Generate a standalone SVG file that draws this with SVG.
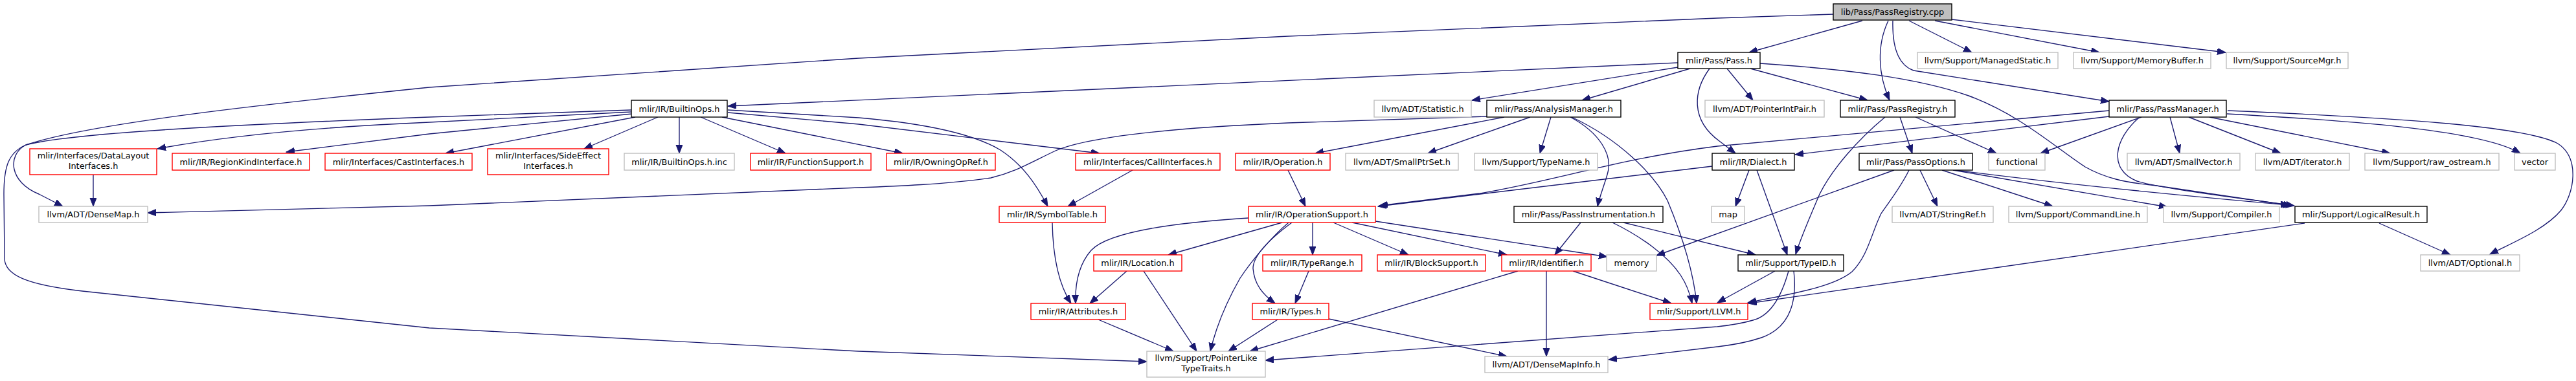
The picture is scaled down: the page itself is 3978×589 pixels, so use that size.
<svg xmlns="http://www.w3.org/2000/svg" width="3978" height="589" viewBox="0 0 3978 589">
<defs>
<marker id="ah" markerUnits="userSpaceOnUse" markerWidth="14" markerHeight="11" refX="13" refY="5" orient="auto">
<path d="M0,0 L13,5 L0,10 z" fill="#191970" stroke="#191970" stroke-width="1"/>
</marker>
<style>
rect{fill:#ffffff;stroke-width:1.4}
.b{stroke:#000000}
.r{stroke:#ff0000}
.g{stroke:#bfbfbf}
.cur{fill:#bfbfbf;stroke:#000000}
text{font-family:"DejaVu Sans","Liberation Sans",sans-serif;font-size:12.9px;fill:#000000;text-anchor:middle}
#edges path{fill:none;stroke:#191970;stroke-width:1.35;marker-end:url(#ah)}
</style>
</defs>
<rect x="0" y="0" width="3978" height="589" style="fill:#ffffff;stroke:none"/>
<g id="edges">
<path d="M2876,32 L2701,81"/>
<path d="M2916,32 C2898,70 2900,115 2918,155"/>
<path d="M2923,32 C2922,70 2930,100 2955,109 L3257,157"/>
<path d="M2948,32 L3045,81"/>
<path d="M2988,32 L3242,81"/>
<path d="M3014,30 L3437,81"/>
<path d="M2831,22 L2652,28 L1989,56 L1326,90 L663,135 C420,160 140,190 40,224 C10,240 15,282 60,300 L97,319"/>
<path d="M975,170 L663,181 C380,192 110,205 40,224 C12,236 6,260 6,300 L7,400 C8,425 40,440 127,450 L663,507 L1326,543 L1771,559"/>
<path d="M2591,97 L1124,164"/>
<path d="M2591,104 L2273,155"/>
<path d="M2610,106 L2443,155"/>
<path d="M2640,106 C2615,140 2610,185 2655,218 L2680,237"/>
<path d="M2667,106 L2707,155"/>
<path d="M2703,106 L2884,155"/>
<path d="M2718,98 C2850,107 2960,120 3040,148 C3120,178 3170,225 3220,258 C3250,275 3280,282 3330,287 L3539,318"/>
<path d="M3257,180 L2772,239"/>
<path d="M3257,171 L2652,226 C2500,245 2400,280 2285,299 L2130,318"/>
<path d="M3307,181 L3151,237"/>
<path d="M3303,182 C3265,215 3255,262 3300,280 C3340,292 3450,305 3543,318"/>
<path d="M3351,181 L3366,237"/>
<path d="M3380,181 L3522,237"/>
<path d="M3412,181 L3691,237"/>
<path d="M3439,176 C3620,186 3830,200 3892,237"/>
<path d="M3440,171 C3700,182 3900,195 3950,222 C3985,245 3975,300 3955,325 C3930,355 3880,375 3845,393"/>
<path d="M2911,181 C2870,215 2830,260 2810,300 C2795,335 2780,370 2773,393"/>
<path d="M2934,181 L2953,237"/>
<path d="M2958,181 L3083,237"/>
<path d="M2296,180 L1989,190 C1800,198 1680,212 1630,233 C1590,252 1570,265 1530,275 C1460,285 1380,288 1326,290 L663,318 L228,329"/>
<path d="M2323,181 L2031,237"/>
<path d="M2363,181 L2205,237"/>
<path d="M2395,181 L2378,237"/>
<path d="M2425,181 C2470,205 2492,240 2482,270 C2476,290 2470,305 2467,319"/>
<path d="M2427,181 C2500,215 2555,270 2575,310 C2600,370 2615,420 2620,469"/>
<path d="M975,173 L663,189 C500,196 350,210 243,230"/>
<path d="M976,176 L663,207 L442,235"/>
<path d="M981,181 L688,237"/>
<path d="M1016,181 L902,230"/>
<path d="M1049,181 L1049,237"/>
<path d="M1082,181 L1213,237"/>
<path d="M1115,181 L1394,237"/>
<path d="M1124,174 L1326,192 L1698,237"/>
<path d="M1124,170 L1326,182 C1420,190 1500,205 1545,232 C1580,255 1600,285 1618,319"/>
<path d="M144,270 L144,319"/>
<path d="M1749,263 L1649,319"/>
<path d="M1989,263 L2016,319"/>
<path d="M2644,257 L2128,319"/>
<path d="M2701,263 L2680,319"/>
<path d="M2713,263 L2760,394"/>
<path d="M2925,263 L2558,395"/>
<path d="M2948,263 C2935,290 2915,315 2905,330 C2890,360 2885,395 2860,420 C2830,445 2760,455 2699,468"/>
<path d="M2965,263 L2992,319"/>
<path d="M2999,263 L3170,319"/>
<path d="M3016,263 L3347,320"/>
<path d="M3020,263 C3150,280 3320,298 3535,317"/>
<path d="M3559,345 L2700,469"/>
<path d="M3674,345 L3784,394"/>
<path d="M2441,344 L2401,394"/>
<path d="M2490,344 C2535,366 2575,395 2595,425 C2605,440 2610,455 2613,469"/>
<path d="M2507,344 L2711,394"/>
<path d="M1928,337 C1800,345 1710,360 1685,387 C1665,410 1660,440 1661,469"/>
<path d="M1980,344 L1804,394"/>
<path d="M1990,344 C1965,365 1935,400 1915,430 C1895,465 1878,505 1869,543"/>
<path d="M1995,344 C1960,370 1935,395 1935,415 C1937,440 1950,455 1969,469"/>
<path d="M2027,344 L2027,394"/>
<path d="M2059,344 L2175,394"/>
<path d="M2088,344 L2327,394"/>
<path d="M2124,342 L2482,397"/>
<path d="M2021,419 L2000,469"/>
<path d="M1973,494 L1897,543"/>
<path d="M2052,493 L2327,551"/>
<path d="M1740,419 L1683,469"/>
<path d="M1766,419 L1848,543"/>
<path d="M1696,494 L1812,543"/>
<path d="M2344,419 L1930,543"/>
<path d="M2388,419 L2388,551"/>
<path d="M2429,419 L2581,469"/>
<path d="M2741,419 L2652,468"/>
<path d="M2762,419 C2752,455 2735,488 2707,495 C2690,500 2670,503 2652,505 L1954,557"/>
<path d="M2770,419 C2775,460 2768,505 2720,522 C2690,532 2660,535 2652,536 L2484,556"/>
<path d="M1625,344 C1626,400 1635,440 1654,469"/>
</g>
<g id="n_cpp"><rect class="cur" x="2831" y="6" width="183" height="25"/><text x="2922.5" y="23">lib/Pass/PassRegistry.cpp</text></g>
<g id="n_passh"><rect class="b" x="2591" y="81" width="127" height="25"/><text x="2654.5" y="98">mlir/Pass/Pass.h</text></g>
<g id="n_managed"><rect class="g" x="2961" y="81" width="217" height="25"/><text x="3069.5" y="98">llvm/Support/ManagedStatic.h</text></g>
<g id="n_membuf"><rect class="g" x="3202" y="81" width="212" height="25"/><text x="3308" y="98">llvm/Support/MemoryBuffer.h</text></g>
<g id="n_srcmgr"><rect class="g" x="3438" y="81" width="188" height="25"/><text x="3532" y="98">llvm/Support/SourceMgr.h</text></g>
<g id="n_builtin"><rect class="b" x="975" y="155" width="148" height="26"/><text x="1049" y="172.5">mlir/IR/BuiltinOps.h</text></g>
<g id="n_statistic"><rect class="g" x="2122" y="155" width="150" height="26"/><text x="2197" y="172.5">llvm/ADT/Statistic.h</text></g>
<g id="n_analysis"><rect class="b" x="2296" y="155" width="207" height="26"/><text x="2399.5" y="172.5">mlir/Pass/AnalysisManager.h</text></g>
<g id="n_ptrint"><rect class="g" x="2633" y="155" width="184" height="26"/><text x="2725" y="172.5">llvm/ADT/PointerIntPair.h</text></g>
<g id="n_passreg"><rect class="b" x="2842" y="155" width="177" height="26"/><text x="2930.5" y="172.5">mlir/Pass/PassRegistry.h</text></g>
<g id="n_passmgr"><rect class="b" x="3257" y="155" width="181" height="26"/><text x="3347.5" y="172.5">mlir/Pass/PassManager.h</text></g>
<g id="n_datalayout"><rect class="r" x="46" y="230" width="196" height="40"/><text x="144" y="245">mlir/Interfaces/DataLayout</text><text x="144" y="261">Interfaces.h</text></g>
<g id="n_regionkind"><rect class="r" x="266" y="237" width="212" height="26"/><text x="372" y="254.5">mlir/IR/RegionKindInterface.h</text></g>
<g id="n_cast"><rect class="r" x="502" y="237" width="227" height="26"/><text x="615.5" y="254.5">mlir/Interfaces/CastInterfaces.h</text></g>
<g id="n_sideeffect"><rect class="r" x="753" y="230" width="187" height="40"/><text x="846.5" y="245">mlir/Interfaces/SideEffect</text><text x="846.5" y="261">Interfaces.h</text></g>
<g id="n_builtininc"><rect class="g" x="964" y="237" width="170" height="26"/><text x="1049" y="254.5">mlir/IR/BuiltinOps.h.inc</text></g>
<g id="n_funcsupport"><rect class="r" x="1159" y="237" width="186" height="26"/><text x="1252" y="254.5">mlir/IR/FunctionSupport.h</text></g>
<g id="n_owning"><rect class="r" x="1369" y="237" width="168" height="26"/><text x="1453" y="254.5">mlir/IR/OwningOpRef.h</text></g>
<g id="n_callif"><rect class="r" x="1661" y="237" width="223" height="26"/><text x="1772.5" y="254.5">mlir/Interfaces/CallInterfaces.h</text></g>
<g id="n_operation"><rect class="r" x="1908" y="237" width="146" height="26"/><text x="1981" y="254.5">mlir/IR/Operation.h</text></g>
<g id="n_smallptr"><rect class="g" x="2078" y="237" width="174" height="26"/><text x="2165" y="254.5">llvm/ADT/SmallPtrSet.h</text></g>
<g id="n_typename"><rect class="g" x="2277" y="237" width="190" height="26"/><text x="2372" y="254.5">llvm/Support/TypeName.h</text></g>
<g id="n_dialect"><rect class="b" x="2644" y="237" width="127" height="26"/><text x="2707.5" y="254.5">mlir/IR/Dialect.h</text></g>
<g id="n_passopts"><rect class="b" x="2871" y="237" width="175" height="26"/><text x="2958.5" y="254.5">mlir/Pass/PassOptions.h</text></g>
<g id="n_functional"><rect class="g" x="3071" y="237" width="87" height="26"/><text x="3114.5" y="254.5">functional</text></g>
<g id="n_smallvec"><rect class="g" x="3285" y="237" width="174" height="26"/><text x="3372" y="254.5">llvm/ADT/SmallVector.h</text></g>
<g id="n_iterator"><rect class="g" x="3483" y="237" width="145" height="26"/><text x="3555.5" y="254.5">llvm/ADT/iterator.h</text></g>
<g id="n_rawostream"><rect class="g" x="3652" y="237" width="207" height="26"/><text x="3755.5" y="254.5">llvm/Support/raw_ostream.h</text></g>
<g id="n_vector"><rect class="g" x="3883" y="237" width="63" height="26"/><text x="3914.5" y="254.5">vector</text></g>
<g id="n_densemap"><rect class="g" x="60" y="319" width="168" height="25"/><text x="144" y="336">llvm/ADT/DenseMap.h</text></g>
<g id="n_symtab"><rect class="r" x="1543" y="319" width="164" height="25"/><text x="1625" y="336">mlir/IR/SymbolTable.h</text></g>
<g id="n_opsupport"><rect class="r" x="1928" y="319" width="196" height="25"/><text x="2026" y="336">mlir/IR/OperationSupport.h</text></g>
<g id="n_passinstr"><rect class="b" x="2338" y="319" width="230" height="25"/><text x="2453" y="336">mlir/Pass/PassInstrumentation.h</text></g>
<g id="n_map"><rect class="g" x="2643" y="319" width="51" height="25"/><text x="2668.5" y="336">map</text></g>
<g id="n_stringref"><rect class="g" x="2922" y="319" width="156" height="25"/><text x="3000" y="336">llvm/ADT/StringRef.h</text></g>
<g id="n_cmdline"><rect class="g" x="3102" y="319" width="214" height="25"/><text x="3209" y="336">llvm/Support/CommandLine.h</text></g>
<g id="n_compiler"><rect class="g" x="3341" y="319" width="179" height="25"/><text x="3430.5" y="336">llvm/Support/Compiler.h</text></g>
<g id="n_logical"><rect class="b" x="3544" y="319" width="204" height="25"/><text x="3646" y="336">mlir/Support/LogicalResult.h</text></g>
<g id="n_location"><rect class="r" x="1689" y="394" width="136" height="25"/><text x="1757" y="411">mlir/IR/Location.h</text></g>
<g id="n_typerange"><rect class="r" x="1950" y="394" width="153" height="25"/><text x="2026.5" y="411">mlir/IR/TypeRange.h</text></g>
<g id="n_blocksupport"><rect class="r" x="2127" y="394" width="167" height="25"/><text x="2210.5" y="411">mlir/IR/BlockSupport.h</text></g>
<g id="n_identifier"><rect class="r" x="2319" y="394" width="138" height="25"/><text x="2388" y="411">mlir/IR/Identifier.h</text></g>
<g id="n_memory"><rect class="g" x="2481" y="394" width="77" height="25"/><text x="2519.5" y="411">memory</text></g>
<g id="n_typeid"><rect class="b" x="2684" y="394" width="163" height="25"/><text x="2765.5" y="411">mlir/Support/TypeID.h</text></g>
<g id="n_optional"><rect class="g" x="3738" y="394" width="153" height="25"/><text x="3814.5" y="411">llvm/ADT/Optional.h</text></g>
<g id="n_attributes"><rect class="r" x="1592" y="469" width="146" height="25"/><text x="1665" y="486">mlir/IR/Attributes.h</text></g>
<g id="n_types"><rect class="r" x="1934" y="469" width="118" height="25"/><text x="1993" y="486">mlir/IR/Types.h</text></g>
<g id="n_llvmh"><rect class="r" x="2548" y="469" width="151" height="25"/><text x="2623.5" y="486">mlir/Support/LLVM.h</text></g>
<g id="n_pointerlike"><rect class="g" x="1771" y="543" width="183" height="40"/><text x="1862.5" y="558">llvm/Support/PointerLike</text><text x="1862.5" y="574">TypeTraits.h</text></g>
<g id="n_densemapinfo"><rect class="g" x="2293" y="551" width="190" height="25"/><text x="2388" y="568">llvm/ADT/DenseMapInfo.h</text></g>
</svg>
